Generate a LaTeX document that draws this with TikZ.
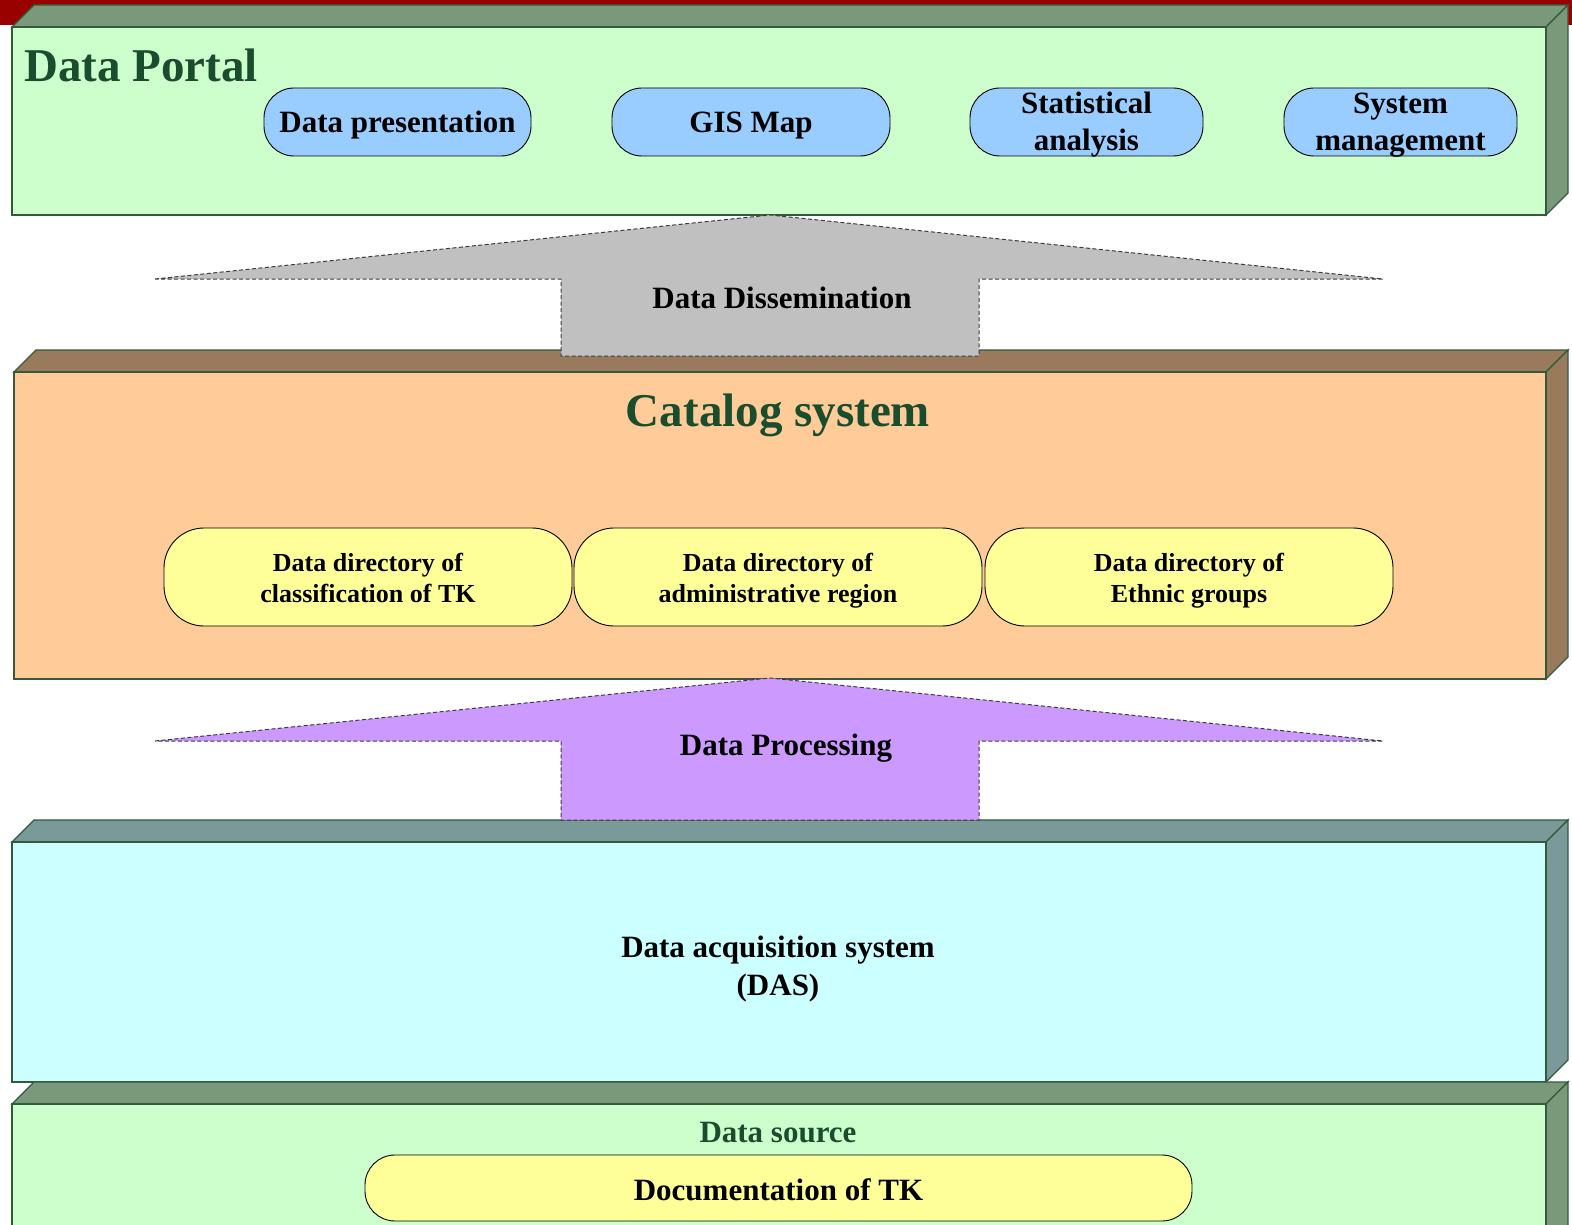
\documentclass[tikz,border=0pt]{standalone}
\usepackage{fontspec}
\setmainfont{Liberation Serif}
\definecolor{redbar}{RGB}{153,0,0}
\definecolor{greenfront}{RGB}{204,255,204}
\definecolor{greenside}{RGB}{122,153,122}
\definecolor{orangefront}{RGB}{255,204,153}
\definecolor{brownside}{RGB}{153,122,92}
\definecolor{cyanfront}{RGB}{204,255,255}
\definecolor{tealside}{RGB}{122,153,153}
\definecolor{boxedge}{RGB}{51,90,60}
\definecolor{titlegreen}{RGB}{26,77,46}
\definecolor{pillblue}{RGB}{153,204,255}
\definecolor{pillyellow}{RGB}{255,255,153}
\definecolor{arrowgray}{RGB}{192,192,192}
\definecolor{arrowpurple}{RGB}{204,153,255}
\definecolor{dashgray}{RGB}{60,60,60}
\newcommand\mycuboid[6]{%
  \filldraw[fill=#6,boxface] (#1,#2) -- (#1+22,#2-22) -- (#3+22,#2-22) -- (#3,#2) -- cycle;
  \filldraw[fill=#6,boxface] (#3,#2) -- (#3+22,#2-22) -- (#3+22,#4-22) -- (#3,#4) -- cycle;
  \filldraw[fill=#5,boxface] (#1,#2) rectangle (#3,#4);
}
\begin{document}
\begin{tikzpicture}[x=1pt,y=-1pt,
  boxface/.style={draw=boxedge,line width=1.3pt,line join=miter},
  pillshape/.style={draw=black,line width=0.9pt,inner sep=0pt},
  bluepill/.style={pillshape,fill=pillblue,minimum height=68pt,rounded corners=30pt},
  yellowpill/.style={pillshape,fill=pillyellow,minimum height=98pt,rounded corners=40pt,minimum width=408pt},
  docpill/.style={pillshape,fill=pillyellow,minimum height=66pt,rounded corners=30pt},
  bigtitle/.style={font=\bfseries\fontsize{47}{50}\selectfont,text=titlegreen,inner sep=0pt},
  bodytext/.style={font=\bfseries\fontsize{31}{37}\selectfont,text=black,inner sep=0pt,anchor=base},
  smalltext/.style={font=\bfseries\fontsize{26}{31}\selectfont,text=black,inner sep=0pt,anchor=base},
  flowarrow/.style={draw=dashgray,line width=1pt,dash pattern=on 4pt off 2.5pt,line join=miter}]
\clip (0,0) rectangle (1572,1225);
\fill[white] (0,0) rectangle (1572,1225);
\fill[redbar] (0,0) rectangle (1572,25);

% layers
\mycuboid{12}{27}{1546}{215}{greenfront}{greenside}
\mycuboid{14}{372}{1546}{679}{orangefront}{brownside}
\mycuboid{12}{842}{1546}{1082}{cyanfront}{tealside}
\mycuboid{12}{1104}{1546}{1250}{greenfront}{greenside}

% Data Portal
\node[bigtitle,anchor=base west] (dptitle) at (24,82) {Data Portal};
\node[bluepill,minimum width=267pt] (p1) at (397.5,122) {};
\node[bodytext] (p1t) at (p1.center |- 0,133) {Data presentation};
\node[bluepill,minimum width=278pt] (p2) at (751,122) {};
\node[bodytext] (p2t) at (p2.center |- 0,133) {GIS Map};
\node[bluepill,minimum width=233pt] (p3) at (1086.5,122) {};
\node[bodytext] (p3a) at (p3.center |- 0,113.5) {Statistical};
\node[bodytext] (p3b) at (p3.center |- 0,151) {analysis};
\node[bluepill,minimum width=233pt] (p4) at (1400.5,122) {};
\node[bodytext] (p4a) at (p4.center |- 0,113.5) {System};
\node[bodytext] (p4b) at (p4.center |- 0,151) {management};

% Catalog system
\node[bigtitle,anchor=base] (cstitle) at (778,426) {Catalog system};
\node[yellowpill] (c1) at (368,577) {};
\node[smalltext] (c1a) at (c1.center |- 0,571) {Data directory of};
\node[smalltext] (c1b) at (c1.center |- 0,602) {classification of TK};
\node[yellowpill] (c2) at (778,577) {};
\node[smalltext] (c2a) at (c2.center |- 0,571) {Data directory of};
\node[smalltext] (c2b) at (c2.center |- 0,602) {administrative region};
\node[yellowpill] (c3) at (1189,577) {};
\node[smalltext] (c3a) at (c3.center |- 0,571) {Data directory of};
\node[smalltext] (c3b) at (c3.center |- 0,602) {Ethnic groups};

% DAS
\node[bodytext] (dasa) at (778,957.5) {Data acquisition system};
\node[bodytext] (dasb) at (778,995.5) {(DAS)};

% Data source
\node[bodytext,text=titlegreen] (dstitle) at (778,1142) {Data source};
\node[docpill,minimum width=827pt] (doc) at (778.5,1188) {};
\node[bodytext] (doct) at (doc.center |- 0,1200) {Documentation of TK};

% Data Dissemination arrow
\filldraw[fill=arrowgray,flowarrow] (155,279) -- (770,215) -- (1383,279) -- (979,279) -- (979,356) -- (561,356) -- (561,279) -- cycle;
\node[bodytext] (diss) at (782,308) {Data Dissemination};

% Data Processing arrow
\filldraw[fill=arrowpurple,flowarrow] (155,741) -- (770,678) -- (1383,741) -- (979,741) -- (979,820) -- (561,820) -- (561,741) -- cycle;
\node[bodytext] (proc) at (786,755.5) {Data Processing};
\end{tikzpicture}
\end{document}
